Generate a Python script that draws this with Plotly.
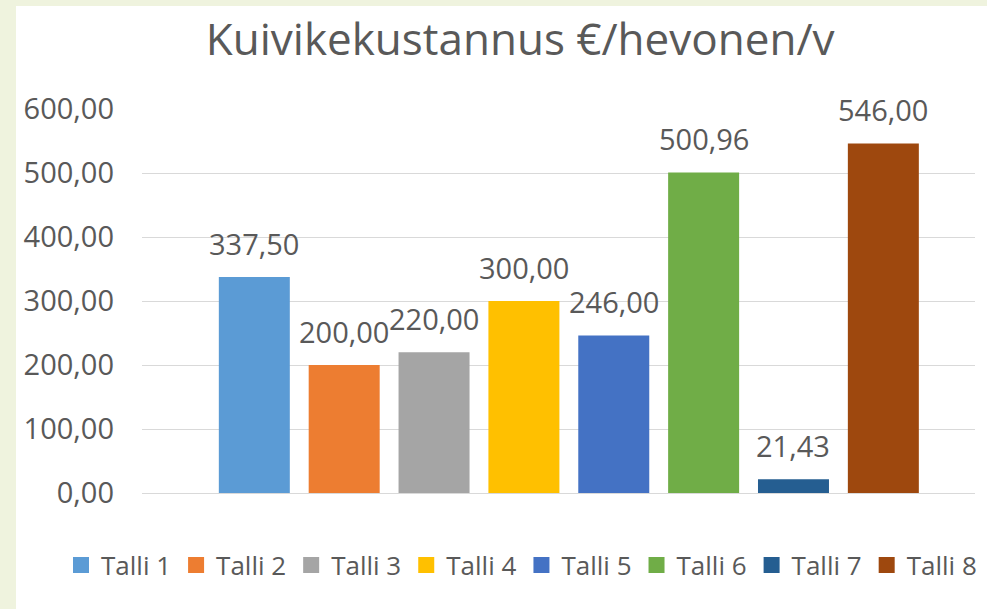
import plotly.graph_objects as go

categories = ["Talli 1", "Talli 2", "Talli 3", "Talli 4", "Talli 5", "Talli 6", "Talli 7", "Talli 8"]
values = [337.50, 200.00, 220.00, 300.00, 246.00, 500.96, 21.43, 546.00]
colors = ["#5b9bd5", "#ed7d31", "#a5a5a5", "#ffc000", "#4472c4", "#70ad47", "#255e91", "#9e480e"]
y_ticks = [0, 100, 200, 300, 400, 500, 600]
title = "Kuivikekustannus €/hevonen/v"

FONT = "Open Sans, sans-serif"
TXT = "#595959"

fig = go.Figure()
for name, val, col in zip(categories, values, colors):
    fig.add_trace(go.Bar(
        x=[name], y=[val], name=name, marker=dict(color=col, line=dict(width=0)),
        showlegend=False,
    ))
    fig.add_annotation(x=name, y=val, text=f"{val:.2f}".replace(".", ","), showarrow=False,
                       yshift=34, yanchor="middle", xanchor="center",
                       font=dict(family=FONT, size=29, color=TXT))
# legend entries (square swatches)
for name, col in zip(categories, colors):
    fig.add_trace(go.Scatter(x=[None], y=[None], mode="markers", name=name,
                             marker=dict(symbol="square", size=16, color=col)))

W, H = 987, 609
L, R, T, B = 142, 12, 109, 116
pw, ph = W - L - R, H - T - B

fig.add_shape(type="rect", xref="paper", yref="paper", layer="below",
              x0=(16 - L) / pw, x1=(W + 5 - L) / pw,
              y0=(T + ph - H - 5) / ph, y1=(T + ph - 6) / ph,
              fillcolor="white", line=dict(width=0))

fig.update_layout(
    width=W, height=H,
    margin=dict(l=L, r=R, t=T, b=B),
    paper_bgcolor="#eff3de", plot_bgcolor="white",
    separators=",.",
    barmode="overlay", bargap=0.21,
    showlegend=True,
    title=dict(text=title, x=0.527, xref="container", xanchor="center", y=1 - 40 / H, yanchor="middle",
               font=dict(family=FONT, size=44, color=TXT)),
    legend=dict(orientation="h", x=(61 - L) / pw, xref="paper", xanchor="left",
                y=(T + ph - 565) / ph, yref="paper", yanchor="middle",
                font=dict(family=FONT, size=26, color=TXT), traceorder="normal",
                itemwidth=30, bgcolor="rgba(0,0,0,0)"),
    font=dict(family=FONT, color=TXT),
)
fig.update_xaxes(showticklabels=False, showgrid=False, zeroline=False, showline=False,
                 range=[-1.25, 8.02], ticks="")
fig.update_yaxes(range=[0, 600], tickvals=y_ticks, tickformat=".2f", showgrid=True, gridcolor="#d9d9d9",
                 gridwidth=1, zeroline=True, zerolinecolor="#d9d9d9", zerolinewidth=1, showline=False,
                 tickfont=dict(family=FONT, size=29, color=TXT), ticks="", ticklabelstandoff=27)

fig.write_html("out.html", config={"displayModeBar": False},
               post_script="document.body.style.margin='0';")
